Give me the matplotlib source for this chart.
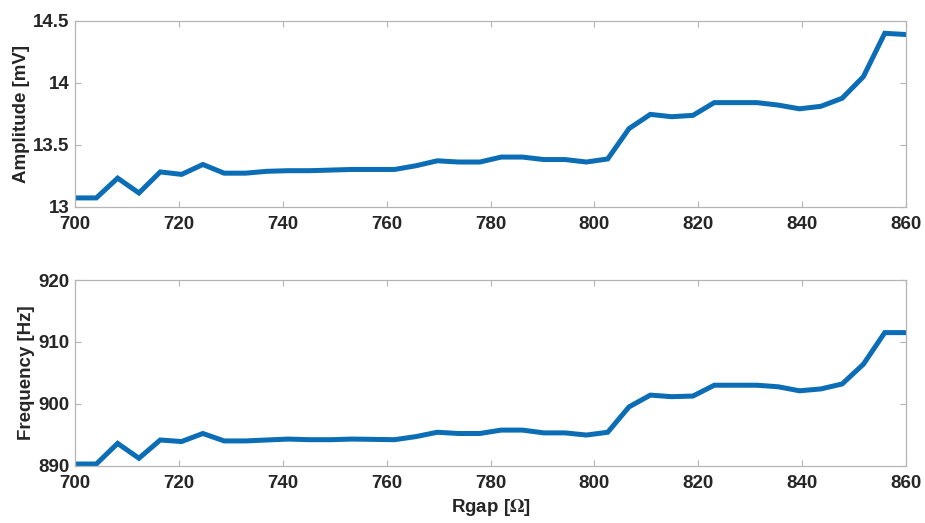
import numpy as np
import matplotlib
matplotlib.use('Agg')
import matplotlib.pyplot as plt

# 데이터
rgap = np.linspace(700, 860, 40)
amplitude = [13.07, 13.07, 13.23, 13.11, 13.28, 13.26, 13.34, 13.27, 13.27, 13.285,
             13.29, 13.29, 13.295, 13.30, 13.30, 13.30, 13.33, 13.37, 13.36, 13.36,
             13.40, 13.40, 13.38, 13.38, 13.36, 13.385, 13.63, 13.745, 13.726, 13.737,
             13.84, 13.84, 13.84, 13.82, 13.79, 13.81, 13.875, 14.05, 14.40, 14.39]
frequency = [890.27, 890.27, 893.6, 891.2, 894.15, 893.9, 895.2, 894.0, 894.0, 894.15,
             894.3, 894.2, 894.2, 894.3, 894.25, 894.2, 894.7, 895.4, 895.2, 895.2,
             895.75, 895.75, 895.3, 895.3, 894.95, 895.4, 899.5, 901.4, 901.15, 901.25,
             903.0, 903.0, 903.0, 902.75, 902.1, 902.4, 903.2, 906.4, 911.5, 911.5]

x_ticks = [700, 720, 740, 760, 780, 800, 820, 840, 860]
amp_ticks = [13, 13.5, 14, 14.5]
amp_labels = ['13', '13.5', '14', '14.5']
freq_ticks = [890, 900, 910, 920]

plt.rcParams['font.family'] = ['Liberation Sans', 'DejaVu Sans']
plt.rcParams['font.weight'] = 'bold'
plt.rcParams['mathtext.fontset'] = 'stix'

text_color = '#262626'
box_color = '#b5b5b5'
line_color = '#0b6db5'
fs = 13.5

fig = plt.figure(figsize=(9.25, 5.23), dpi=100)
ax1 = fig.add_axes([0.0811, 0.605, 0.8984, 0.355])
ax2 = fig.add_axes([0.0811, 0.1096, 0.8984, 0.355])


def style_axis(ax, yticks, ylabels, ylim, ylabel):
    ax.set_xlim(700, 860)
    ax.set_ylim(*ylim)
    ax.set_xticks(x_ticks)
    ax.set_xticklabels([str(t) for t in x_ticks])
    ax.set_yticks(yticks)
    ax.set_yticklabels(ylabels)
    ax.tick_params(direction='in', length=4, width=0.8, color=box_color,
                   labelsize=fs, labelcolor=text_color,
                   top=True, right=True)
    ax.tick_params(axis='x', pad=7)
    ax.tick_params(axis='y', pad=4)
    for s in ax.spines.values():
        s.set_color(box_color)
        s.set_linewidth(0.9)
    ax.set_ylabel(ylabel, fontsize=fs, fontweight='bold', color=text_color, labelpad=2)


ax1.plot(rgap, amplitude, color=line_color, linewidth=3.6, solid_joinstyle='miter')
style_axis(ax1, amp_ticks, amp_labels, (13, 14.5), 'Amplitude [mV]')

ax2.plot(rgap, frequency, color=line_color, linewidth=3.6, solid_joinstyle='miter')
style_axis(ax2, freq_ticks, [str(t) for t in freq_ticks], (890, 920), 'Frequency [Hz]')
ax2.set_xlabel(r'Rgap [$\Omega$]', fontsize=fs, fontweight='bold', color=text_color, labelpad=3)

fig.savefig('out.png', dpi=100)
